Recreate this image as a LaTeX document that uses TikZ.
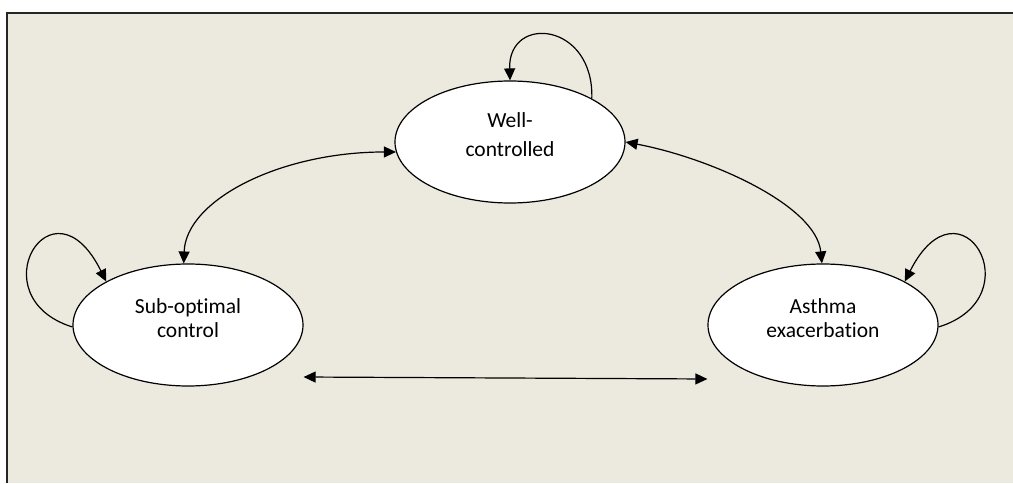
\documentclass[tikz,border=0pt]{standalone}
\usepackage{fontspec}
\setmainfont[Ligatures=NoCommon]{Carlito}
\usetikzlibrary{shapes.geometric,arrows.meta,calc}
\definecolor{bgbeige}{HTML}{ECE9DF}
\begin{document}
\begin{tikzpicture}[x=1pt,y=1pt,
  state/.style={ellipse,draw=black,fill=white,line width=1.2pt,minimum width=230pt,minimum height=122pt,inner sep=0pt},
  lbl/.style={align=center,font=\fontsize{21.5}{24}\selectfont,inner sep=0pt},
  conn/.style={line width=1.2pt,-{Triangle[length=12pt,width=11pt]}},
  bconn/.style={line width=1.2pt,{Triangle[length=12pt,width=11pt]}-{Triangle[length=12pt,width=11pt]}}]
\useasboundingbox (0,0) rectangle (1013,483);
\fill[bgbeige] (7,0) rectangle (1013,470);
\draw[line width=2pt,color=black!85] (7,0) -- (7,470) -- (1013,470);

\node[state] (wc) at (510,341) {};
\node[state] (so) at (188,158) {};
\node[state] (ae) at (823,158) {};
\node[lbl] (wct) at (510,348) {Well-\\[5pt]controlled};
\node[lbl] (sot) at (188,165) {Sub-optimal\\control};
\node[lbl] (aet) at (823,165) {Asthma\\exacerbation};

\draw[conn] (wc.28) .. controls (594,461) and (508,469) .. (wc.90);
\draw[conn] (so.181) .. controls (-23,186) and (52,311) .. (so.152);
\draw[conn] (ae.359) .. controls (1035,186) and (960,311) .. (ae.28);
\draw[bconn] (so.94) .. controls (186,283) and (280,331) .. (wc.185);
\draw[bconn] (wc.0) .. controls (710,325) and (816,278) .. (ae.91);
\coordinate (bl) at ([yshift=-52pt]so.east);
\coordinate (br) at ([yshift=-54pt]ae.west);
\draw[bconn] (bl) -- (br);
\end{tikzpicture}
\end{document}
